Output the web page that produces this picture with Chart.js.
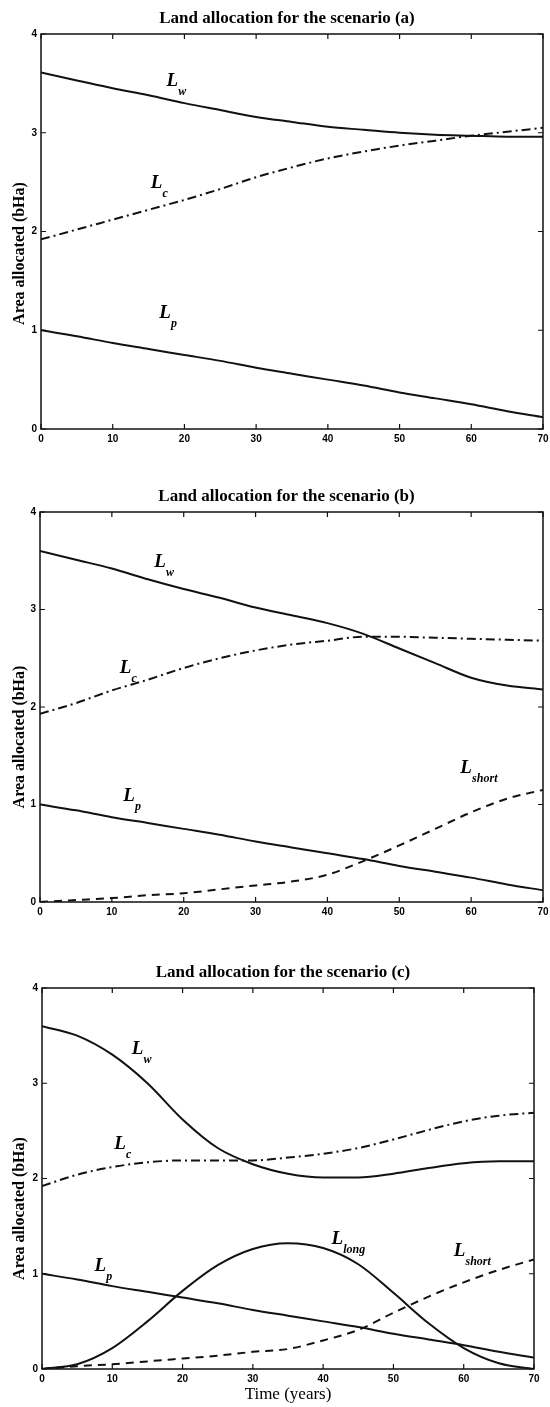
<!DOCTYPE html>
<html><head><meta charset="utf-8">
<script src="https://cdn.jsdelivr.net/npm/chart.js@4.4.1/dist/chart.umd.min.js"></script>
<style>
html,body{margin:0;padding:0;background:#fff;}
body{width:550px;height:1407px;position:relative;overflow:hidden;}
canvas{position:absolute;left:0;}
</style></head><body>
<canvas id="ca" width="550" height="455" style="top:0px"></canvas>
<canvas id="cb" width="550" height="465" style="top:455px"></canvas>
<canvas id="cc" width="550" height="487" style="top:920px"></canvas>
<script>
// ---- data ----
const years = [0,5,10,15,20,25,30,35,40,45,50,55,60,65,70];
const xTicks = [0,10,20,30,40,50,60,70];
const yTicks = [0,1,2,3,4];
const titles = ['Land allocation for the scenario (a)','Land allocation for the scenario (b)','Land allocation for the scenario (c)'];
const yTitle = 'Area allocated (bHa)';
const xTitle = 'Time (years)';

// scenario (a)
const aLw = [3.61,3.53,3.45,3.38,3.30,3.23,3.16,3.11,3.06,3.03,3.00,2.98,2.97,2.96,2.96];
const aLc = [1.92,2.02,2.12,2.22,2.32,2.43,2.55,2.65,2.74,2.81,2.87,2.92,2.97,3.01,3.05];
const aLp = [1.00,0.94,0.87,0.81,0.75,0.69,0.62,0.56,0.50,0.44,0.37,0.31,0.25,0.18,0.12];
// scenario (b)
const bLw = [3.60,3.51,3.42,3.31,3.21,3.12,3.02,2.94,2.86,2.75,2.60,2.45,2.30,2.22,2.18];
const bLc = [1.93,2.04,2.17,2.28,2.40,2.50,2.58,2.64,2.68,2.72,2.72,2.71,2.70,2.69,2.68];
const bLp = [1.00,0.94,0.87,0.81,0.75,0.69,0.62,0.56,0.50,0.44,0.37,0.31,0.25,0.18,0.12];
const bLshort = [0.00,0.02,0.04,0.07,0.09,0.13,0.17,0.21,0.28,0.42,0.58,0.75,0.92,1.06,1.15];
// scenario (c)
const cLw = [3.60,3.50,3.30,3.00,2.62,2.32,2.15,2.05,2.01,2.01,2.05,2.11,2.16,2.18,2.18];
const cLc = [1.92,2.04,2.12,2.17,2.19,2.19,2.19,2.22,2.26,2.32,2.41,2.51,2.60,2.66,2.69];
const cLp = [1.00,0.94,0.87,0.81,0.75,0.69,0.62,0.56,0.50,0.44,0.37,0.31,0.25,0.18,0.12];
const cLlong = [0.00,0.05,0.22,0.50,0.82,1.09,1.26,1.32,1.27,1.10,0.80,0.48,0.22,0.06,0.00];
const cLshort = [0.00,0.03,0.05,0.08,0.11,0.14,0.18,0.21,0.30,0.41,0.59,0.76,0.91,1.04,1.15];

// ---- styles / layout ----
const SOLID = [], DASHDOT = [9,4,2,4], DASHED = [8,6];
const INK = '#111';
const SERIF = '"Liberation Serif", "Times New Roman", serif';

const panels = [
  { id:'ca', h:455, area:{left:41,right:543,top:34,bottom:429}, title:titles[0], xt:false, yOff:22,
    series:[[aLw,SOLID],[aLc,DASHDOT],[aLp,SOLID]],
    notes:[{x:18.3,y:3.54,s:'w'},{x:16.1,y:2.51,s:'c'},{x:17.3,y:1.19,s:'p'}] },
  { id:'cb', h:465, area:{left:40,right:543,top:57,bottom:447}, title:titles[1], xt:false, yOff:30,
    series:[[bLw,SOLID],[bLc,DASHDOT],[bLp,SOLID],[bLshort,DASHED]],
    notes:[{x:16.7,y:3.51,s:'w'},{x:11.9,y:2.42,s:'c'},{x:12.4,y:1.11,s:'p'},{x:59.3,y:1.40,s:'short'}] },
  { id:'cc', h:487, area:{left:42,right:534,top:68,bottom:449}, title:titles[2], xt:true, yOff:30,
    series:[[cLw,SOLID],[cLc,DASHDOT],[cLp,SOLID],[cLlong,SOLID],[cLshort,DASHED]],
    notes:[{x:13.6,y:3.38,s:'w'},{x:11.1,y:2.38,s:'c'},{x:8.3,y:1.10,s:'p'},{x:42,y:1.39,s:'long'},{x:59.4,y:1.26,s:'short'}] }
];

const decor = {
  id:'decor',
  afterDraw(chart){
    const p = chart.options.plugins.decor;
    const ctx = chart.ctx, a = chart.chartArea;
    const xs = chart.scales.x, ys = chart.scales.y;
    ctx.save();
    // frame
    ctx.strokeStyle = INK; ctx.lineWidth = 1.5;
    ctx.strokeRect(a.left, a.top, a.right - a.left, a.bottom - a.top);
    // inward ticks
    ctx.lineWidth = 1.2;
    ctx.beginPath();
    xTicks.forEach(v => {
      const px = xs.getPixelForValue(v);
      ctx.moveTo(px, a.bottom); ctx.lineTo(px, a.bottom - 5);
      ctx.moveTo(px, a.top); ctx.lineTo(px, a.top + 5);
    });
    yTicks.forEach(v => {
      const py = ys.getPixelForValue(v);
      ctx.moveTo(a.left, py); ctx.lineTo(a.left + 5, py);
      ctx.moveTo(a.right, py); ctx.lineTo(a.right - 5, py);
    });
    ctx.stroke();
    // title
    ctx.fillStyle = '#000';
    ctx.font = 'bold 17px ' + SERIF;
    ctx.textAlign = 'center'; ctx.textBaseline = 'middle';
    ctx.fillText(p.title, (a.left + a.right) / 2 - 5, a.top - 15);
    // y title
    ctx.save();
    ctx.translate(20, (a.top + a.bottom) / 2 + p.yOff);
    ctx.rotate(-Math.PI / 2);
    ctx.font = 'bold 16px ' + SERIF;
    ctx.fillText(yTitle, 0, 0);
    ctx.restore();
    // x title
    if (p.xt) {
      ctx.font = '17px ' + SERIF;
      ctx.fillText(xTitle, (a.left + a.right) / 2, a.bottom + 26);
    }
    // curve labels
    p.notes.forEach(n => {
      const px = xs.getPixelForValue(n.x), py = ys.getPixelForValue(n.y);
      ctx.font = 'italic bold 19px ' + SERIF;
      ctx.textAlign = 'center'; ctx.textBaseline = 'alphabetic';
      ctx.fillText('L', px, py + 7);
      ctx.font = 'italic bold 12px ' + SERIF;
      ctx.textAlign = 'left';
      ctx.fillText(n.s, px + 6, py + 16);
    });
    ctx.restore();
  }
};

panels.forEach(pn => {
  const A = pn.area;
  new Chart(document.getElementById(pn.id), {
    type: 'line',
    data: {
      datasets: pn.series.map(([arr, dash]) => ({
        data: years.map((x, i) => ({ x: x, y: arr[i] })),
        borderColor: INK, borderWidth: 2, borderDash: dash,
        pointRadius: 0, fill: false, cubicInterpolationMode: 'monotone'
      }))
    },
    options: {
      responsive: false, animation: false, devicePixelRatio: 1,
      layout: { padding: { left: 0, top: A.top, right: 550 - A.right, bottom: 0 } },
      plugins: {
        legend: { display: false }, title: { display: false }, tooltip: { enabled: false },
        decor: { title: pn.title, notes: pn.notes, xt: pn.xt, yOff: pn.yOff }
      },
      scales: {
        x: {
          type: 'linear', min: 0, max: 70,
          grid: { display: false, drawTicks: false }, border: { display: false },
          afterBuildTicks: s => { s.ticks = xTicks.map(v => ({ value: v })); },
          ticks: { autoSkip: false, maxRotation: 0, padding: 4, color: '#000',
                   font: { family: '"Liberation Sans", Arial, sans-serif', size: 10, weight: 'bold' } },
          afterFit: s => { s.height = pn.h - A.bottom; s.paddingLeft = 0; s.paddingRight = 0; s.paddingTop = 0; s.paddingBottom = 0; }
        },
        y: {
          type: 'linear', min: 0, max: 4,
          grid: { display: false, drawTicks: false }, border: { display: false },
          afterBuildTicks: s => { s.ticks = yTicks.map(v => ({ value: v })); },
          ticks: { padding: 4, color: '#000',
                   font: { family: '"Liberation Sans", Arial, sans-serif', size: 10, weight: 'bold' } },
          afterFit: s => { s.width = A.left; s.paddingLeft = 0; s.paddingRight = 0; s.paddingTop = 0; s.paddingBottom = 0; }
        }
      }
    },
    plugins: [decor]
  });
});
</script>
</body></html>
